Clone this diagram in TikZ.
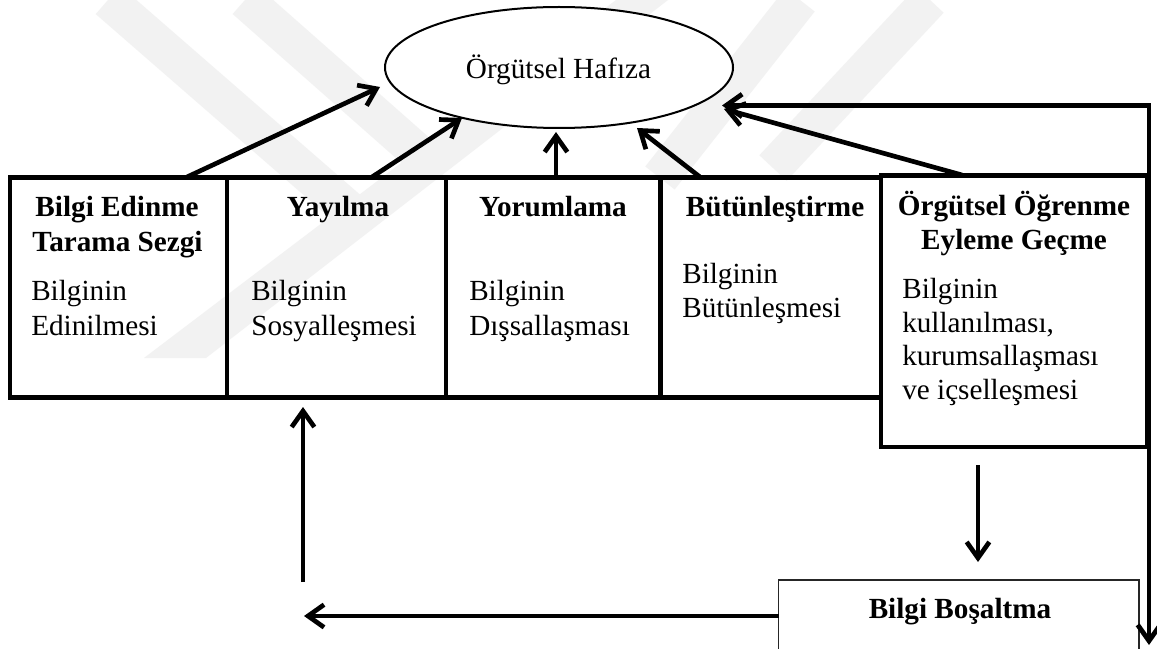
\documentclass[tikz,border=0pt]{standalone}
\usepackage{fontspec}
\setmainfont{Liberation Serif}
\usetikzlibrary{arrows.meta,shapes.geometric}
\begin{document}
\begin{tikzpicture}[x=0.75pt,y=-0.75pt,
  box/.style={draw, line width=3.5pt, inner sep=0pt, minimum height=165pt},
  ell/.style={draw, ellipse, line width=1.5pt, fill=white, inner sep=0pt,
              minimum width=261pt, minimum height=90.75pt},
  thinbox/.style={draw=black!85, line width=1.1pt, inner sep=0pt},
  hd/.style={font=\fontsize{21.9}{26}\selectfont\bfseries, inner sep=0pt, anchor=base},
  bd/.style={font=\fontsize{21.9}{26}\selectfont, inner sep=0pt, anchor=base west},
  arr/.style={line width=3.5pt, -{Straight Barb[length=12pt,width=17pt]}},
  arrboth/.style={line width=3.6pt, {Straight Barb[length=12pt,width=17pt]}-{Straight Barb[length=12pt,width=17pt]}},
  wm/.style={line width=28pt, black!5, line cap=butt}]
\useasboundingbox (0,0) rectangle (1157,649);
\fill[white] (0,0) rectangle (1157,649);

% faint watermark bands
\draw[wm] (108,0) -- (355,215);
\draw[wm] (245,0) -- (432,165);
\fill[black!5] (144,358) -- (206,358) -- (668,0) -- (616,0) -- cycle;
\draw[wm] (800,0) -- (660,178);
\draw[wm] (773,168) -- (930,0);

% ellipse
\node[ell] (mem) at (559,67.5) {};
\node[bd, anchor=base] (memt) at (558.5,79) {Örgütsel Hafıza};

% boxes
\node[box, minimum width=162.75pt] (b1) at (118.5,287.5) {};
\node[box, minimum width=164.25pt] (b2) at (336.5,287.5) {};
\node[box, minimum width=160.875pt] (b3) at (553.25,287.5) {};
\node[box, minimum width=165.375pt] (b4) at (770.75,287.5) {};
\node[box, minimum width=199.5pt, minimum height=203.625pt] (b5) at (1014,311.25) {};
\node[thinbox, minimum width=270.375pt, minimum height=90pt] (bb) at (958.75,640) {};

% texts
\node[hd] (h1a) at (117,217) {Bilgi Edinme};
\node[hd] (h1b) at (117.5,252) {Tarama Sezgi};
\node[bd] (t1a) at (31,300) {Bilginin};
\node[bd] (t1b) at (31,335) {Edinilmesi};

\node[hd] (h2) at (338,217) {Yayılma};
\node[bd] (t2a) at (251,300) {Bilginin};
\node[bd] (t2b) at (251,335) {Sosyalleşmesi};

\node[hd] (h3) at (553,217) {Yorumlama};
\node[bd] (t3a) at (469,300) {Bilginin};
\node[bd] (t3b) at (469,335) {Dışsallaşması};

\node[hd] (h4) at (775,217) {Bütünleştirme};
\node[bd] (t4a) at (682,283) {Bilginin};
\node[bd] (t4b) at (682,317) {Bütünleşmesi};

\node[hd] (h5a) at (1014,215) {Örgütsel Öğrenme};
\node[hd] (h5b) at (1014,249) {Eyleme Geçme};
\node[bd] (t5a) at (902,298) {Bilginin};
\node[bd] (t5b) at (902,332) {kullanılması,};
\node[bd] (t5c) at (902,365) {kurumsallaşması};
\node[bd] (t5d) at (902,399) {ve içselleşmesi};

\node[hd] (hb) at (960,618) {Bilgi Boşaltma};

% connector end points
\coordinate (s1) at (187,177);
\coordinate (e1) at (380,87);
\coordinate (s2) at (372,177);
\coordinate (e2) at (462,118);
\coordinate (s3) at (556,177);
\coordinate (e3) at (556,132);
\coordinate (s4) at (700,177);
\coordinate (e4) at (637,128);
\coordinate (s5) at (962,175);
\coordinate (e5) at (724,109);
\coordinate (f1) at (722,105.5);
\coordinate (f2) at (1149,105.5);
\coordinate (f3) at (1149,645);
\coordinate (d1) at (978,465);
\coordinate (d2) at (978,562);
\coordinate (l1) at (778.5,616);
\coordinate (l2) at (304,616);
\coordinate (u1) at (303,582);
\coordinate (u2) at (303,407);

% connectors
\draw[arr] (s1) -- (e1);
\draw[arr] (s2) -- (e2);
\draw[arr] (s3) -- (e3);
\draw[arr] (s4) -- (e4);
\draw[arr] (s5) -- (e5);
\draw[arrboth] (f1) -- (f2) -- (f3);
\draw[arr] (d1) -- (d2);
\draw[arr] (l1) -- (l2);
\draw[arr] (u1) -- (u2);
\end{tikzpicture}
\end{document}
